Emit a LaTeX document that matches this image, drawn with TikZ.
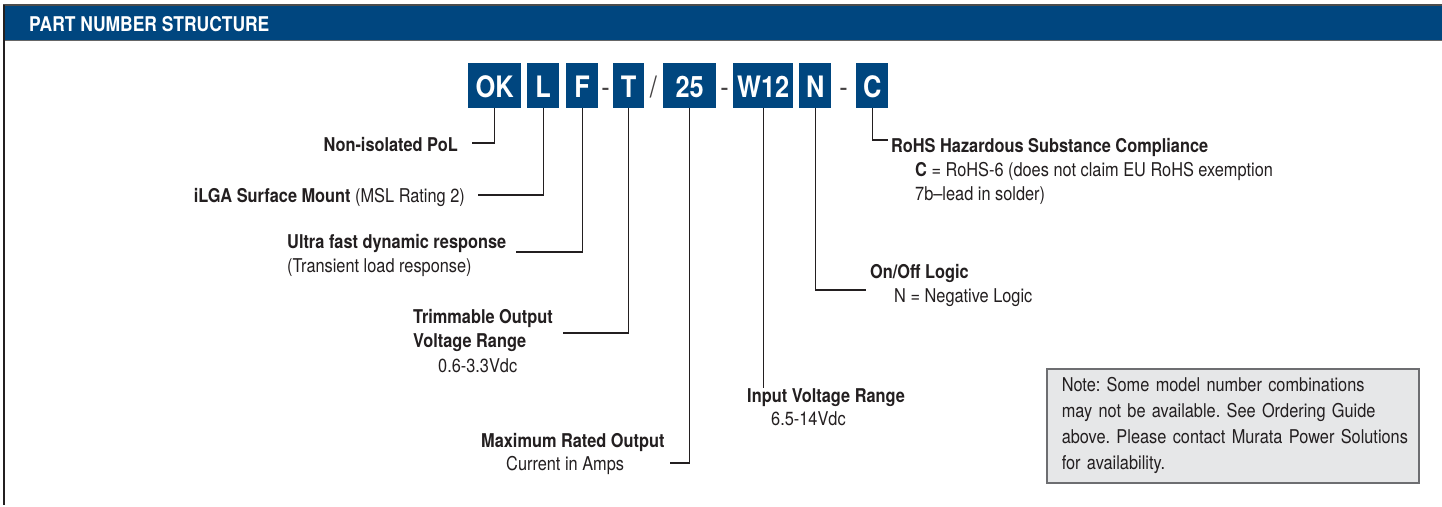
\documentclass[tikz,border=0pt]{standalone}
\usepackage{fontspec}
\setmainfont{TeX Gyre Heros}[FakeStretch=0.86]
\definecolor{murblue}{RGB}{0,70,127}
\definecolor{ink}{RGB}{35,31,32}
\definecolor{notefill}{RGB}{230,231,232}
\definecolor{noteline}{RGB}{109,110,113}
\newcommand{\lblfont}{\fontsize{19}{24}\selectfont}
\newcommand{\boxfont}{\fontsize{29.5}{34}\selectfont\bfseries}
\frenchspacing
\begin{document}
\begin{tikzpicture}[x=1pt, y=-1pt,
  pnbox/.style={fill=murblue, text=white, font=\boxfont, inner sep=0pt,
    minimum height=45pt, text height=23pt, text depth=0pt, anchor=north west},
  sepmark/.style={font=\fontsize{29.5}{34}\selectfont, text=ink!85, inner sep=0pt,
    text height=23pt, text depth=0pt},
  lbl/.style={font=\lblfont, text=ink, inner sep=0pt},
  link/.style={draw=ink, line width=1.2pt}]
  \useasboundingbox (0,0) rectangle (1442,506);
  \fill[white] (0,0) rectangle (1442,506);
  % header bar and frame
  \fill[murblue] (3,5) rectangle (1442,40);
  \draw[black!70, line width=1.5pt] (3,5) -- (1442,5);
  \draw[black!60, line width=1pt] (3,40) -- (1442,40);
  \draw[ink, line width=2.5pt] (4,5) -- (4,505);
  \node[anchor=base west, inner sep=0pt, text=white,
    font=\fontsize{20.3}{24}\selectfont\bfseries] (title) at (29,31) {PART NUMBER STRUCTURE};
  % part number boxes
  \foreach \n/\x/\w/\t in {ok/468/53/OK, l/527/32/L, f/566/32/F, t/613/31/T,
      amps/663/53/25, vin/733/60/W12, n/799/32/N, c/856/32/C}
    \node[pnbox, minimum width=\w pt] (\n) at (\x,63) {\t};
  \node[sepmark] (sepa) at (605.5,85.5) {-};
  \node[sepmark] (sepb) at (653.5,85.5) {/};
  \node[sepmark] (sepc) at (724.5,85.5) {-};
  \node[sepmark] (sepd) at (843.5,85.5) {-};
  % labels
  \node[lbl, anchor=base east] (nonpol) at (458,151) {\textbf{Non-isolated PoL}};
  \node[lbl, anchor=base east] (ilga) at (465,202) {\textbf{iLGA Surface Mount} (MSL Rating 2)};
  \node[lbl, anchor=base west] (ultra) at (287,248) {\textbf{Ultra fast dynamic response}};
  \node[lbl, anchor=base west] (ultra2) at ([yshift=-24pt]ultra.base west) {(Transient load response)};
  \node[lbl, anchor=base west] (trim) at (413,323) {\textbf{Trimmable Output}};
  \node[lbl, anchor=base west] (trim2) at ([yshift=-24pt]trim.base west) {\textbf{Voltage Range}};
  \node[lbl, anchor=base west] (trim3) at ([xshift=25pt,yshift=-49pt]trim.base west) {0.6-3.3Vdc};
  \node[lbl, anchor=base west] (maxout) at (481,447) {\textbf{Maximum Rated Output}};
  \node[lbl, anchor=base west] (maxout2) at ([xshift=25pt,yshift=-23pt]maxout.base west) {Current in Amps};
  \node[lbl, anchor=base west] (vrange) at (747,402) {\textbf{Input Voltage Range}};
  \node[lbl, anchor=base west] (vrange2) at ([xshift=24pt,yshift=-23pt]vrange.base west) {6.5-14Vdc};
  \node[lbl, anchor=base west] (onoff) at (870,278) {\textbf{On/Off Logic}};
  \node[lbl, anchor=base west] (onoff2) at ([xshift=24pt,yshift=-24pt]onoff.base west) {N = Negative Logic};
  \node[lbl, anchor=base west] (rohs) at (891,152) {\textbf{RoHS Hazardous Substance Compliance}};
  \node[lbl, anchor=base west] (rohs2) at ([xshift=24pt,yshift=-24pt]rohs.base west) {\textbf{C} = RoHS-6 (does not claim EU RoHS exemption};
  \node[lbl, anchor=base west] (rohs3) at ([xshift=24pt,yshift=-48pt]rohs.base west) {7b–lead in solder)};
  % connector ends
  \coordinate (nonpolend) at (472,143);
  \coordinate (ilgaend) at (478,195);
  \coordinate (ultraend) at (516,252);
  \coordinate (trimend) at (563,333);
  \coordinate (maxoutend) at (670,463);
  \coordinate (onoffend) at (866,290);
  \coordinate (rohsend) at (888,140);
  \draw[link] (ok.south) |- (nonpolend);
  \draw[link] (l.south) |- (ilgaend);
  \draw[link] (f.south) |- (ultraend);
  \draw[link] (t.south) |- (trimend);
  \draw[link] (amps.south) |- (maxoutend);
  \draw[link] (vin.south) -- (vin.south |- vrange.north);
  \draw[link] (n.south) |- (onoffend);
  \draw[link] (c.south) |- (rohsend);
  % note box
  \node[draw=noteline, fill=notefill, line width=1.5pt, anchor=north west,
    minimum width=372pt, minimum height=114pt, text width=342pt, inner xsep=15pt,
    align=left, font=\fontsize{19}{26}\selectfont, text=ink] (note) at (1046,368)
    {\mbox{Note: Some model number combinations}\\ \mbox{may not be available. See Ordering Guide}\\
     \mbox{above. Please contact Murata Power Solutions}\\ \mbox{for availability.}};
\end{tikzpicture}
\end{document}
